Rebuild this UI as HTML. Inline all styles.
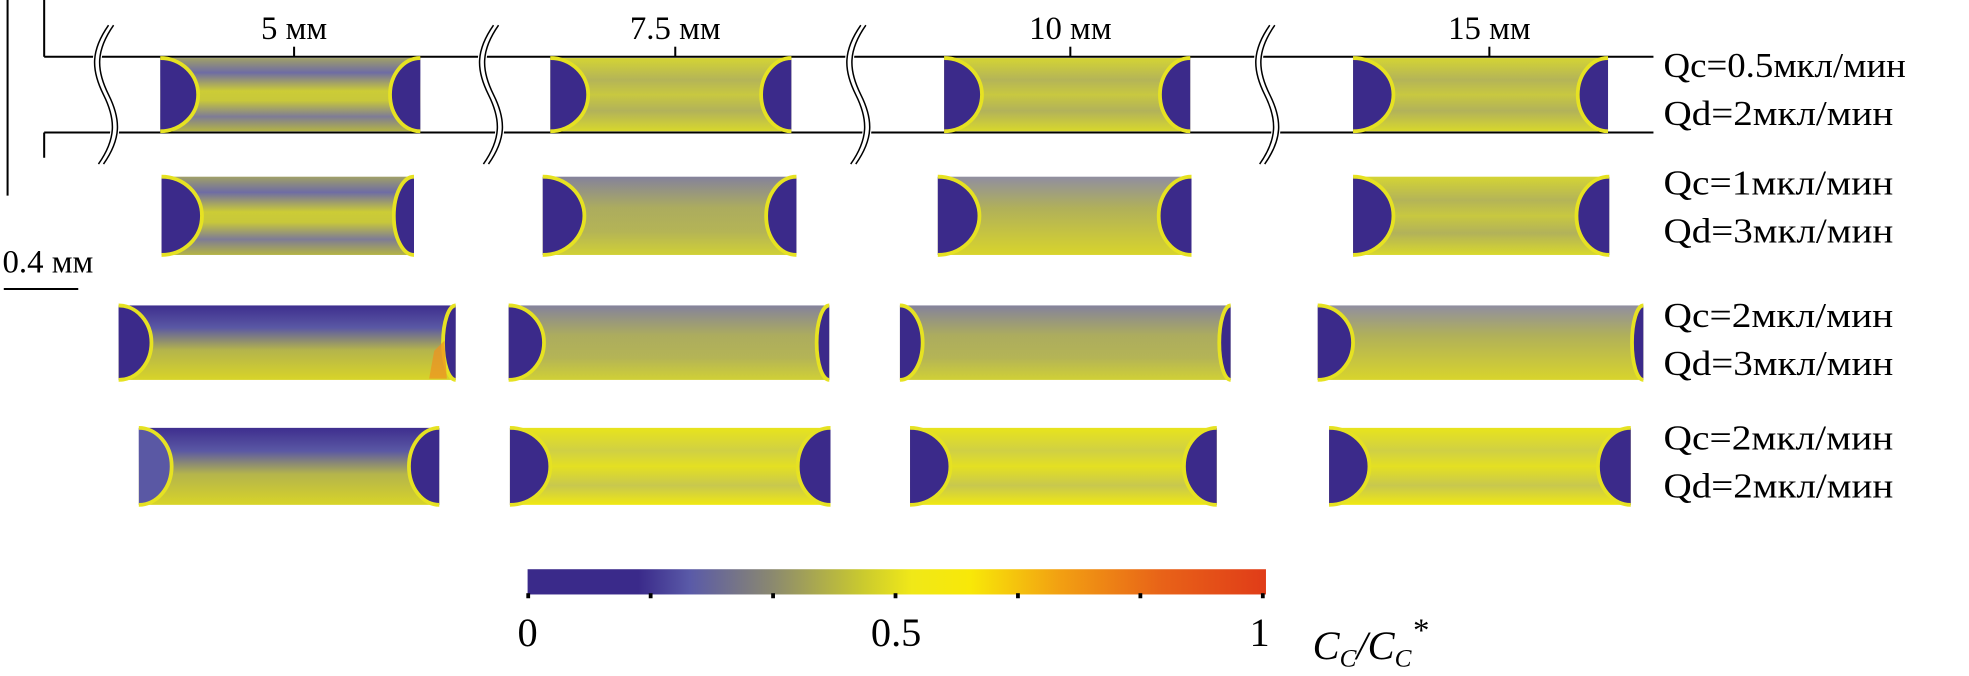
<!DOCTYPE html>
<html><head><meta charset="utf-8"><style>
html,body{margin:0;padding:0;background:#fff;width:1969px;height:676px;overflow:hidden}
svg{display:block}
text{font-family:"Liberation Serif",serif;fill:#000}
</style></head><body>
<svg width="1969" height="676" viewBox="0 0 1560 535.6" preserveAspectRatio="none" xmlns="http://www.w3.org/2000/svg">
<defs>
<linearGradient id="gA" x1="0" y1="0" x2="0" y2="1">
<stop offset="0" stop-color="#a0a068"/><stop offset="0.2" stop-color="#6e6ca4"/><stop offset="0.45" stop-color="#cccc36"/><stop offset="0.58" stop-color="#c8c83a"/><stop offset="0.8" stop-color="#7e7c96"/><stop offset="1" stop-color="#b4b444"/></linearGradient>
<linearGradient id="gB" x1="0" y1="0" x2="0" y2="1">
<stop offset="0" stop-color="#d4d434"/><stop offset="0.3" stop-color="#b4b458"/><stop offset="0.5" stop-color="#c8c840"/><stop offset="0.72" stop-color="#b2b25a"/><stop offset="1" stop-color="#d8d82c"/></linearGradient>
<linearGradient id="gC" x1="0" y1="0" x2="0" y2="1">
<stop offset="0" stop-color="#e8e41c"/><stop offset="0.3" stop-color="#d0d044"/><stop offset="0.5" stop-color="#e4e022"/><stop offset="0.75" stop-color="#c8c84e"/><stop offset="1" stop-color="#f0e812"/></linearGradient>
<linearGradient id="gD" x1="0" y1="0" x2="0" y2="1">
<stop offset="0" stop-color="#3e2e8e"/><stop offset="0.3" stop-color="#5a58a4"/><stop offset="0.6" stop-color="#b4b44c"/><stop offset="1" stop-color="#d8d428"/></linearGradient>
<linearGradient id="gE" x1="0" y1="0" x2="0" y2="1">
<stop offset="0" stop-color="#908ea0"/><stop offset="0.4" stop-color="#b0b05a"/><stop offset="1" stop-color="#d8d42c"/></linearGradient>
<linearGradient id="gF" x1="0" y1="0" x2="0" y2="1">
<stop offset="0" stop-color="#84829c"/><stop offset="0.4" stop-color="#acac5e"/><stop offset="0.7" stop-color="#b4b456"/><stop offset="1" stop-color="#d0d036"/></linearGradient>
<linearGradient id="cb" x1="0" y1="0" x2="1" y2="0">
<stop offset="0" stop-color="#3a2a8a"/><stop offset="0.15" stop-color="#3a2a8a"/><stop offset="0.22" stop-color="#5a5aa8"/><stop offset="0.33" stop-color="#8a8870"/><stop offset="0.45" stop-color="#c8c830"/><stop offset="0.52" stop-color="#f0e818"/><stop offset="0.6" stop-color="#f8e808"/><stop offset="0.72" stop-color="#f2a012"/><stop offset="0.86" stop-color="#e86218"/><stop offset="1" stop-color="#e03c18"/></linearGradient>
<g id="brk" fill="none">
<path d="M0,0 C-14,20 -14,35 -4,55 C6,75 6,90 -8,110" fill="none" stroke="#fff" stroke-width="7"/>
<path d="M-2,0 C-16,20 -16,35 -6,55 C4,75 4,90 -10,110" fill="none" stroke="#000" stroke-width="1.2"/>
<path d="M2,0 C-12,20 -12,35 -2,55 C8,75 8,90 -6,110" fill="none" stroke="#000" stroke-width="1.2"/>
</g>
</defs>

<g stroke="#000" stroke-width="1.6" fill="none">
<line x1="6" y1="0" x2="6" y2="155"/>
<line x1="35" y1="0" x2="35" y2="45"/>
<line x1="35" y1="105" x2="35" y2="125"/>
<line x1="35" y1="45" x2="1310" y2="45"/>
<line x1="35" y1="105" x2="1310" y2="105"/>
<line x1="233" y1="37" x2="233" y2="45"/>
<line x1="535" y1="37" x2="535" y2="45"/>
<line x1="848" y1="37" x2="848" y2="45"/>
<line x1="1180" y1="37" x2="1180" y2="45"/>
<line x1="3" y1="229" x2="62" y2="229"/>
</g>
<g font-size="26" text-anchor="middle">
<text x="233" y="31">5 мм</text>
<text x="535" y="31">7.5 мм</text>
<text x="848" y="31">10 мм</text>
<text x="1180" y="31">15 мм</text>
</g>
<text x="2" y="216" font-size="26">0.4 мм</text>

<use href="#brk" x="88" y="20"/>
<use href="#brk" x="393" y="20"/>
<use href="#brk" x="684" y="20"/>
<use href="#brk" x="1008" y="20"/>

<g>
<rect x="127" y="46" width="206" height="58" fill="url(#gA)"/>
<rect x="436" y="46" width="191" height="58" fill="url(#gB)"/>
<rect x="748" y="46" width="195" height="58" fill="url(#gB)"/>
<rect x="1072" y="46" width="202" height="58" fill="url(#gB)"/>
<rect x="128" y="140" width="200" height="62" fill="url(#gA)"/>
<rect x="430" y="140" width="201" height="62" fill="url(#gF)"/>
<rect x="743" y="140" width="201" height="62" fill="url(#gE)"/>
<rect x="1072" y="140" width="203" height="62" fill="url(#gB)"/>
<rect x="94" y="242" width="267" height="59" fill="url(#gD)"/>
<rect x="403" y="242" width="254" height="59" fill="url(#gF)"/>
<rect x="713" y="242" width="262" height="59" fill="url(#gF)"/>
<rect x="1044" y="242" width="258" height="59" fill="url(#gE)"/>
<rect x="110" y="339" width="238" height="61" fill="url(#gD)"/>
<rect x="404" y="339" width="254" height="61" fill="url(#gC)"/>
<rect x="721" y="339" width="243" height="61" fill="url(#gC)"/>
<rect x="1053" y="339" width="239" height="61" fill="url(#gC)"/>
</g>

<g fill="#3b2a8a" stroke="#e6e222" stroke-width="3">
<path d="M127,46 A30,29 0 0 1 127,104"/>
<path d="M333,46 A24,29 0 0 0 333,104"/>
<path d="M436,46 A30,29 0 0 1 436,104"/>
<path d="M627,46 A24,29 0 0 0 627,104"/>
<path d="M748,46 A30,29 0 0 1 748,104"/>
<path d="M943,46 A24,29 0 0 0 943,104"/>
<path d="M1072,46 A32,29 0 0 1 1072,104"/>
<path d="M1274,46 A24,29 0 0 0 1274,104"/>
<path d="M128,140 A32,31 0 0 1 128,202"/>
<path d="M328,140 A16,31 0 0 0 328,202"/>
<path d="M430,140 A33,31 0 0 1 430,202"/>
<path d="M631,140 A24,31 0 0 0 631,202"/>
<path d="M743,140 A33,31 0 0 1 743,202"/>
<path d="M944,140 A26,31 0 0 0 944,202"/>
<path d="M1072,140 A32,31 0 0 1 1072,202"/>
<path d="M1275,140 A26,31 0 0 0 1275,202"/>
<path d="M94,242 A26,29.5 0 0 1 94,301"/>
<path d="M361,242 A10,29.5 0 0 0 361,301"/>
<path d="M403,242 A28,29.5 0 0 1 403,301"/>
<path d="M657,242 A10,29.5 0 0 0 657,301"/>
<path d="M713,242 A18,29.5 0 0 1 713,301"/>
<path d="M975,242 A9,29.5 0 0 0 975,301"/>
<path d="M1044,242 A28,29.5 0 0 1 1044,301"/>
<path d="M1302,242 A9,29.5 0 0 0 1302,301"/>
<path d="M110,339 A26,30.5 0 0 1 110,400" fill="#5a58a4"/>
<path d="M348,339 A24,30.5 0 0 0 348,400"/>
<path d="M404,339 A32,30.5 0 0 1 404,400"/>
<path d="M658,339 A26,30.5 0 0 0 658,400"/>
<path d="M721,339 A32,30.5 0 0 1 721,400"/>
<path d="M964,339 A26,30.5 0 0 0 964,400"/>
<path d="M1053,339 A32,30.5 0 0 1 1053,400"/>
<path d="M1292,339 A26,30.5 0 0 0 1292,400"/>
</g>
<path d="M344,278 L352,270 L354,300 L340,300 Z" fill="#f09020" opacity="0.7"/>

<g font-size="28">
<text x="1318" y="61" textLength="192" lengthAdjust="spacingAndGlyphs">Qc=0.5мкл/мин</text>
<text x="1318" y="99" textLength="182" lengthAdjust="spacingAndGlyphs">Qd=2мкл/мин</text>
<text x="1318" y="154" textLength="182" lengthAdjust="spacingAndGlyphs">Qc=1мкл/мин</text>
<text x="1318" y="192" textLength="182" lengthAdjust="spacingAndGlyphs">Qd=3мкл/мин</text>
<text x="1318" y="259" textLength="182" lengthAdjust="spacingAndGlyphs">Qc=2мкл/мин</text>
<text x="1318" y="297" textLength="182" lengthAdjust="spacingAndGlyphs">Qd=3мкл/мин</text>
<text x="1318" y="356" textLength="182" lengthAdjust="spacingAndGlyphs">Qc=2мкл/мин</text>
<text x="1318" y="394" textLength="182" lengthAdjust="spacingAndGlyphs">Qd=2мкл/мин</text>
</g>

<rect x="418" y="451" width="585" height="20" fill="url(#cb)"/>
<g fill="#000">
<rect x="417" y="470" width="3" height="4"/><rect x="514" y="470" width="3" height="4"/>
<rect x="611" y="470" width="3" height="4"/><rect x="708" y="470" width="3" height="4"/>
<rect x="805" y="470" width="3" height="4"/><rect x="902" y="470" width="3" height="4"/>
<rect x="999" y="470" width="3" height="4"/>
</g>
<g font-size="32" text-anchor="middle">
<text x="418" y="512">0</text>
<text x="710" y="512">0.5</text>
<text x="998" y="512">1</text>
</g>
<text x="1040" y="522" font-size="32" font-style="italic">C<tspan font-size="20" dy="6">C</tspan><tspan dy="-6">/C</tspan><tspan font-size="20" dy="6">C</tspan><tspan font-size="26" dy="-20">*</tspan></text>
</svg>
</body></html>
